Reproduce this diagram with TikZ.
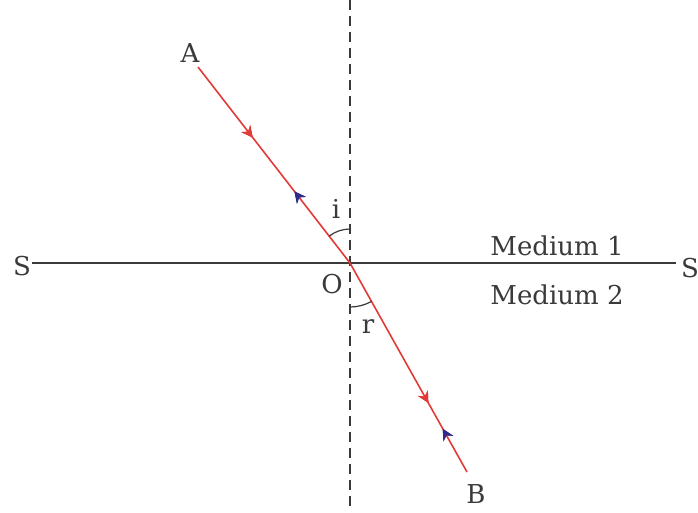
\documentclass[tikz,border=0pt]{standalone}
\usepackage{fontspec}
\setmainfont{DejaVu Serif}
\usetikzlibrary{arrows.meta,decorations.markings}
\definecolor{rayred}{HTML}{E23A36}
\definecolor{arrblue}{HTML}{2E2A8C}
\definecolor{linegray}{HTML}{3A3A3A}
\tikzset{
  lbl/.style={font=\fontsize{26}{30}\selectfont, text=linegray, inner sep=0pt, anchor=base},
  ray/.style={draw=rayred, line width=1.6pt},
  redmark/.style={postaction={decorate}, decoration={markings, mark=at position #1 with {\arrow[rayred, scale=1.6]{Stealth[length=7pt,width=7pt]}}}},
  bluemark/.style={postaction={decorate}, decoration={markings, mark=at position #1 with {\arrow[arrblue, scale=1.6]{Stealth[reversed,length=7pt,width=7pt]}}}},
}
\begin{document}
\begin{tikzpicture}[x=1pt,y=-1pt]
\useasboundingbox (0,0) rectangle (698,512);
\coordinate (O) at (350,263);
\coordinate (A) at (198,67);
\coordinate (B) at (467,472);
\coordinate (SL) at (32,263);
\coordinate (SR) at (676,263);
\coordinate (NT) at (350,0);
\coordinate (NB) at (350,512);
% normal
\draw[linegray, line width=1.4pt, dash pattern=on 10pt off 6pt] (NT) -- (NB);
% surface
\draw[linegray, line width=1.8pt] (SL) -- (SR);
% rays
\draw[ray, redmark=0.36, bluemark=0.68] (A) -- (O);
\draw[ray, redmark=0.67, bluemark=0.84] (O) -- (B);
% angles
\draw[linegray, line width=1.2pt] ([shift={(90:-34)}]O) arc[start angle=-90, end angle=-127.8, radius=34];
\draw[linegray, line width=1.2pt] ([shift={(-90:-44)}]O) arc[start angle=90, end angle=60.8, radius=44];
% labels
\node[lbl] (lA) at (190,62) {A};
\node[lbl] (lB) at (476,503) {B};
\node[lbl] (li) at (336,218) {i};
\node[lbl] (lO) at (332,293) {O};
\node[lbl] (lr) at (368,333) {r};
\node[lbl] (lSL) at (22,275) {S};
\node[lbl] (lSR) at (690,277) {S};
\node[lbl] (m1) at (557,255) {Medium 1};
\node[lbl] (m2) at (557,304) {Medium 2};
\end{tikzpicture}
\end{document}
